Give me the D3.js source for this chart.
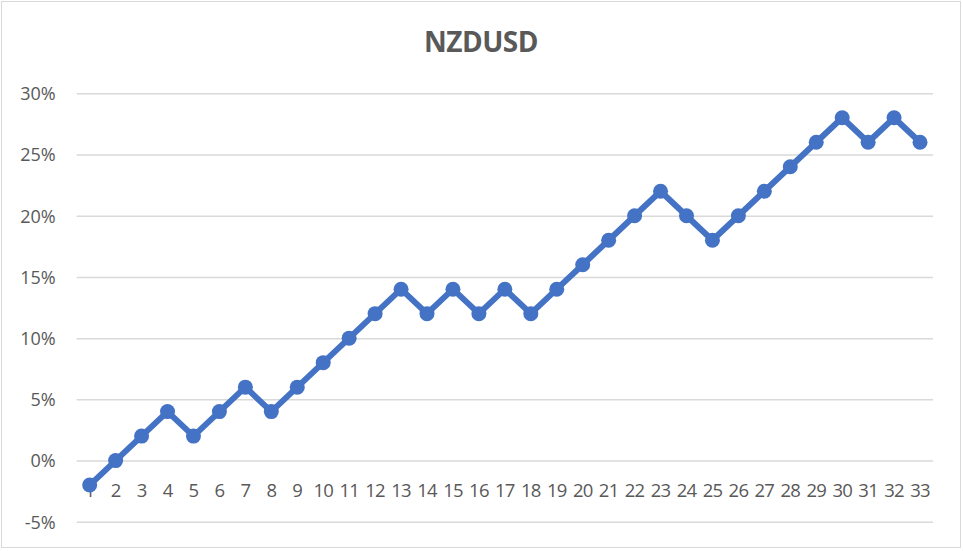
<!DOCTYPE html>
<html><head><meta charset="utf-8">
<script src="https://cdn.jsdelivr.net/npm/d3@7"></script>
<style>body{margin:0;background:#fff}svg{display:block}</style>
</head><body>
<script>
const title = "NZDUSD";
const categories = d3.range(1, 34).map(String);
const values = [-2,0,2,4,2,4,6,4,6,8,10,12,14,12,14,12,14,12,14,16,18,20,22,20,18,20,22,24,26,28,26,28,26];
const yTicks = [-5,0,5,10,15,20,25,30];

(function(){
const W = 963, H = 551;
const svg = d3.select("body").append("svg").attr("width", W).attr("height", H);
svg.append("rect").attr("x",1.5).attr("y",1.5).attr("width",959).attr("height",546)
  .attr("fill","#fff").attr("stroke","#d9d9d9").attr("stroke-width",1);

const pl = 76.7, pr = 933, pt = 93.3, pb = 521.8;
const x = d3.scaleBand().domain(categories).range([pl, pr]);
const y = d3.scaleLinear().domain([-5, 30]).range([pb, pt]);

svg.append("text").attr("x", 481).attr("y", 52).attr("text-anchor","middle")
  .attr("font-family","Open Sans, sans-serif").attr("font-weight","bold").attr("font-size",28)
  .attr("letter-spacing","-0.5")
  .attr("fill","#595959").text(title);

const yAxis = svg.append("g").attr("transform",`translate(${pl},0)`)
  .call(d3.axisLeft(y).tickValues(yTicks).tickSize(-(pr-pl)).tickFormat(d => d + "%"));
yAxis.select(".domain").remove();
yAxis.selectAll("line").attr("stroke","#d9d9d9").attr("stroke-width",1.5);
yAxis.selectAll("text").attr("x",-21).attr("dy","0.35em").attr("fill","#595959")
  .attr("font-family","Open Sans, sans-serif").attr("font-size",18);

const xAxis = svg.append("g").attr("transform",`translate(0,${y(0)})`)
  .call(d3.axisBottom(x).tickSize(0));
xAxis.select(".domain").remove();
xAxis.selectAll("text").attr("y",30).attr("dy","0.35em").attr("fill","#595959")
  .attr("font-family","Open Sans, sans-serif").attr("font-size",18.5).attr("letter-spacing","-0.8");

const cx = (d,i) => x(categories[i]) + x.bandwidth()/2;
svg.append("path").datum(values)
  .attr("d", d3.line().x((d,i)=>cx(d,i)).y(d=>y(d)))
  .attr("fill","none").attr("stroke","#4472C4").attr("stroke-width",6).attr("stroke-linejoin","round");
svg.selectAll("circle.pt").data(values).join("circle").attr("class","pt")
  .attr("cx",(d,i)=>cx(d,i)).attr("cy",d=>y(d)).attr("r",7.5).attr("fill","#4472C4");
})();
</script>
</body></html>
